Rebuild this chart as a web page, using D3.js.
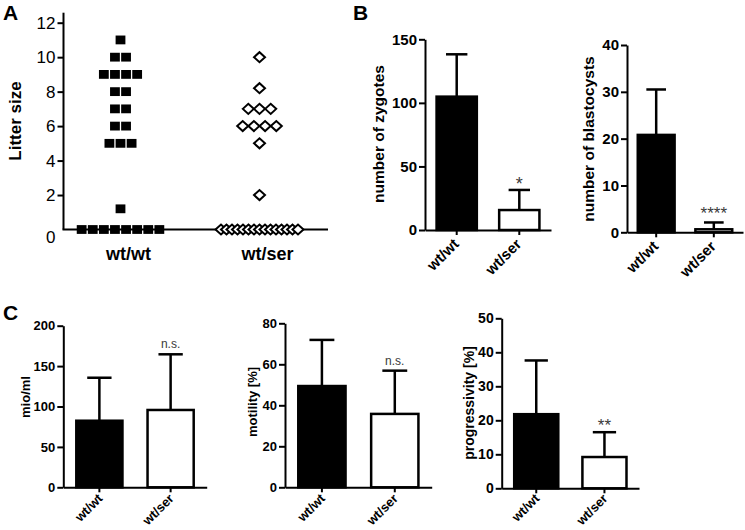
<!DOCTYPE html>
<html><head><meta charset="utf-8">
<script src="https://cdn.jsdelivr.net/npm/d3@7"></script>
<style>
body{margin:0;background:#fff;}
svg{display:block;font-family:"Liberation Sans",Arial,Helvetica,sans-serif;}
</style></head><body>
<svg id="chart" width="745" height="530"></svg>
<script>
// ---------- data ----------
const groups = ["wt/wt", "wt/ser"];
// Panel A: litter sizes (individual litters)
const litterWtWt = [11, 10, 10, 9, 9, 9, 9, 8, 8, 7, 7, 6, 6, 5, 5, 5, 1.2, 0, 0, 0, 0, 0, 0, 0, 0];
const litterWtSer = [10, 8.2, 7, 7, 7, 6, 6, 6, 6, 5, 2, 0, 0, 0, 0, 0, 0, 0, 0, 0, 0, 0, 0, 0, 0, 0];
const litterTicks = [0, 2, 4, 6, 8, 10, 12];
// Panel B
const zygoteMean = [104.9, 15.7];
const zygoteErr = [33.3, 15.8];
const zygoteTicks = [0, 50, 100, 150];
const zygoteSig = ["", "*"];
const blastMean = [20.8, 0.64];
const blastErr = [9.7, 1.46];
const blastTicks = [0, 10, 20, 30, 40];
const blastSig = ["", "****"];
// Panel C
const mioMean = [82.4, 95.7];
const mioErr = [53.2, 68.9];
const mioTicks = [0, 50, 100, 150, 200];
const mioSig = ["", "n.s."];
const motMean = [49.4, 35.8];
const motErr = [22.5, 21.1];
const motTicks = [0, 20, 40, 60, 80];
const motSig = ["", "n.s."];
const progMean = [21.8, 9.2];
const progErr = [15.8, 7.3];
const progTicks = [0, 10, 20, 30, 40, 50];
const progSig = ["", "**"];

// ---------- drawing ----------
const svg = d3.select("#chart");
const FONT = '"Liberation Sans", Arial, Helvetica, sans-serif';

function styleAxis(g, fs, weight) {
  g.attr("font-family", FONT).attr("font-size", fs).attr("font-weight", weight);
  g.selectAll("path.domain").attr("stroke", "#000").attr("stroke-width", 2);
  g.selectAll(".tick line").attr("stroke", "#000").attr("stroke-width", 2);
  g.selectAll(".tick text").attr("fill", "#000");
}

// Panel letters
[["A", 3, 20], ["B", 353, 20], ["C", 3, 320]].forEach(([t, x, y]) => {
  svg.append("text").attr("x", x).attr("y", y).attr("font-size", 21).attr("font-weight", "bold")
    .attr("font-family", FONT).text(t);
});

// ----- Panel A: scatter -----
(function () {
  const g = svg.append("g");
  const xA = d3.scalePoint().domain(groups).range([120.5, 259.5]);
  const yA = d3.scaleLinear().domain([0, 12]).range([229.5, 22.7]);
  const axisX = 63.5;

  function swarm(values, cx, size, maxW, gap) {
    const out = [];
    const rows = d3.group(values, v => v);
    for (const [v, arr] of rows) {
      const n = arr.length;
      const s = n > 1 ? Math.min(gap, (maxW - size) / (n - 1)) : 0;
      arr.forEach((_, i) => out.push({ v, x: cx + (i - (n - 1) / 2) * s }));
    }
    return out;
  }

  const sq = swarm(litterWtWt, xA("wt/wt"), 9.5, 88, 11.1);
  const di = swarm(litterWtSer, xA("wt/ser"), 11, 88, 11.2);

  // axes
  g.append("line").attr("x1", axisX).attr("x2", axisX)
    .attr("y1", yA(12) - 10).attr("y2", yA(0)).attr("stroke", "#000").attr("stroke-width", 2);
  g.append("line").attr("x1", axisX - 1).attr("x2", 328)
    .attr("y1", yA(0)).attr("y2", yA(0)).attr("stroke", "#000").attr("stroke-width", 2);
  const ya = g.append("g").attr("transform", `translate(${axisX},0)`)
    .call(d3.axisLeft(yA).tickValues(litterTicks.filter(v => v > 0)).tickSize(6).tickPadding(2).tickSizeOuter(0));
  ya.select("path.domain").remove();
  styleAxis(ya, 17, "normal");
  g.append("text").attr("x", axisX - 8).attr("y", yA(0) + 8.5).attr("dy", "0.32em")
    .attr("text-anchor", "end").attr("font-size", 17).attr("font-family", FONT).text(litterTicks[0]);

  // markers
  g.selectAll("rect.sq").data(sq).join("rect").attr("class", "sq")
    .attr("x", d => d.x - 4.9).attr("y", d => yA(d.v) - 4.4)
    .attr("width", 9.8).attr("height", 8.8).attr("fill", "#000");
  const dpath = d => `M${d.x - 5.5},${yA(d.v)}L${d.x},${yA(d.v) - 5}L${d.x + 5.5},${yA(d.v)}L${d.x},${yA(d.v) + 5}Z`;
  g.selectAll("path.di").data(di.sort((a, b) => a.x - b.x)).join("path").attr("class", "di")
    .attr("d", dpath).attr("fill", "#fff").attr("stroke", "#000").attr("stroke-width", 2)
    .attr("stroke-linejoin", "miter");

  // labels
  g.selectAll("text.xl").data(groups).join("text").attr("class", "xl")
    .attr("x", d => xA(d) + 8).attr("y", 260).attr("text-anchor", "middle")
    .attr("font-size", 18).attr("font-weight", "bold").attr("font-family", FONT).text(d => d);
  g.append("text").attr("transform", `translate(20.5,121) rotate(-90)`).attr("text-anchor", "middle")
    .attr("font-size", 17).attr("font-weight", "bold").attr("font-family", FONT).text("Litter size");
})();

// ----- bar panels -----
function barPanel(c) {
  const g = svg.append("g");
  const x = d3.scaleBand().domain(groups).range([c.x0, c.x1]).paddingInner(0.317).paddingOuter(0.165);
  const y = d3.scaleLinear().domain([0, d3.max(c.ticks)]).range([c.y0, c.y1]);
  const bw = x.bandwidth();
  const cx = d => x(d) + bw / 2;

  // error bars
  g.selectAll("line.eb").data(groups).join("line").attr("class", "eb")
    .attr("x1", cx).attr("x2", cx)
    .attr("y1", (d, i) => y(c.means[i])).attr("y2", (d, i) => y(c.means[i] + c.errs[i]))
    .attr("stroke", "#000").attr("stroke-width", 2.5);
  g.selectAll("line.cap").data(groups).join("line").attr("class", "cap")
    .attr("x1", d => cx(d) - bw / 4).attr("x2", d => cx(d) + bw / 4)
    .attr("y1", (d, i) => y(c.means[i] + c.errs[i])).attr("y2", (d, i) => y(c.means[i] + c.errs[i]))
    .attr("stroke", "#000").attr("stroke-width", 2.5);
  // bars
  g.selectAll("rect.bar").data(groups).join("rect").attr("class", "bar")
    .attr("x", d => x(d) + 1.25).attr("width", bw - 2.5)
    .attr("y", (d, i) => y(c.means[i])).attr("height", (d, i) => y(0) - y(c.means[i]))
    .attr("fill", (d, i) => i === 0 ? "#000" : "#fff")
    .attr("stroke", "#000").attr("stroke-width", 2.5);

  // axes
  const ya = g.append("g").attr("transform", `translate(${c.x0},0)`)
    .call(d3.axisLeft(y).tickValues(c.ticks).tickSize(6).tickPadding(2).tickSizeOuter(0));
  styleAxis(ya, c.fs, "bold");
  const xa = g.append("g").attr("transform", `translate(0,${c.y0})`)
    .call(d3.axisBottom(x).tickSize(5).tickSizeOuter(0).tickFormat(""));
  styleAxis(xa, c.fs, "bold");

  // category labels (rotated)
  g.selectAll("text.xl").data(groups).join("text").attr("class", "xl")
    .attr("transform", d => `translate(${cx(d) + c.xlx},${c.y0 + c.xly}) rotate(-45)`)
    .attr("text-anchor", "end").attr("font-size", c.xfs).attr("font-weight", "bold")
    .attr("font-family", FONT).text(d => d);

  // significance
  g.selectAll("text.sig").data(groups).join("text").attr("class", "sig")
    .attr("x", cx).attr("y", (d, i) => y(c.means[i] + c.errs[i]) - c.sigOff)
    .attr("text-anchor", "middle").attr("font-size", c.sigFs).attr("fill", "#3a3a3a")
    .attr("font-family", FONT).text((d, i) => c.sig[i]);

  // y label
  g.append("text").attr("transform", `translate(${c.lx},${c.ly}) rotate(-90)`)
    .attr("text-anchor", "middle").attr("font-size", c.lfs).attr("font-weight", "bold")
    .attr("font-family", FONT).text(c.label);
}

barPanel({ x0: 425, x1: 551, y0: 230, y1: 39.3, ticks: zygoteTicks, means: zygoteMean, errs: zygoteErr,
  sig: zygoteSig, fs: 15, xfs: 15, xlx: 3, xly: 15, sigFs: 18, sigOff: 0, label: "number of zygotes", lfs: 15.5, lx: 384, ly: 134 });
barPanel({ x0: 627, x1: 743, y0: 232.3, y1: 45, ticks: blastTicks, means: blastMean, errs: blastErr,
  sig: blastSig, fs: 15, xfs: 15, xlx: 3, xly: 15, sigFs: 17, sigOff: 3, label: "number of blastocysts", lfs: 15.5, lx: 594, ly: 139 });
barPanel({ x0: 63.3, x1: 206.7, y0: 487.3, y1: 325.7, ticks: mioTicks, means: mioMean, errs: mioErr,
  sig: mioSig, fs: 13, xfs: 13, xlx: 4, xly: 12, sigFs: 12, sigOff: 6, label: "mio/ml", lfs: 13, lx: 30, ly: 397 });
barPanel({ x0: 285, x1: 431.7, y0: 487.3, y1: 323.3, ticks: motTicks, means: motMean, errs: motErr,
  sig: motSig, fs: 13, xfs: 13, xlx: 4, xly: 12, sigFs: 12, sigOff: 6, label: "motility [%]", lfs: 13, lx: 257, ly: 402 });
barPanel({ x0: 501.7, x1: 639, y0: 488.3, y1: 318.3, ticks: progTicks, means: progMean, errs: progErr,
  sig: progSig, fs: 14, xfs: 13, xlx: 4, xly: 11, sigFs: 17, sigOff: 1, label: "progressivity [%]", lfs: 14, lx: 474, ly: 403 });
</script>
</body></html>
